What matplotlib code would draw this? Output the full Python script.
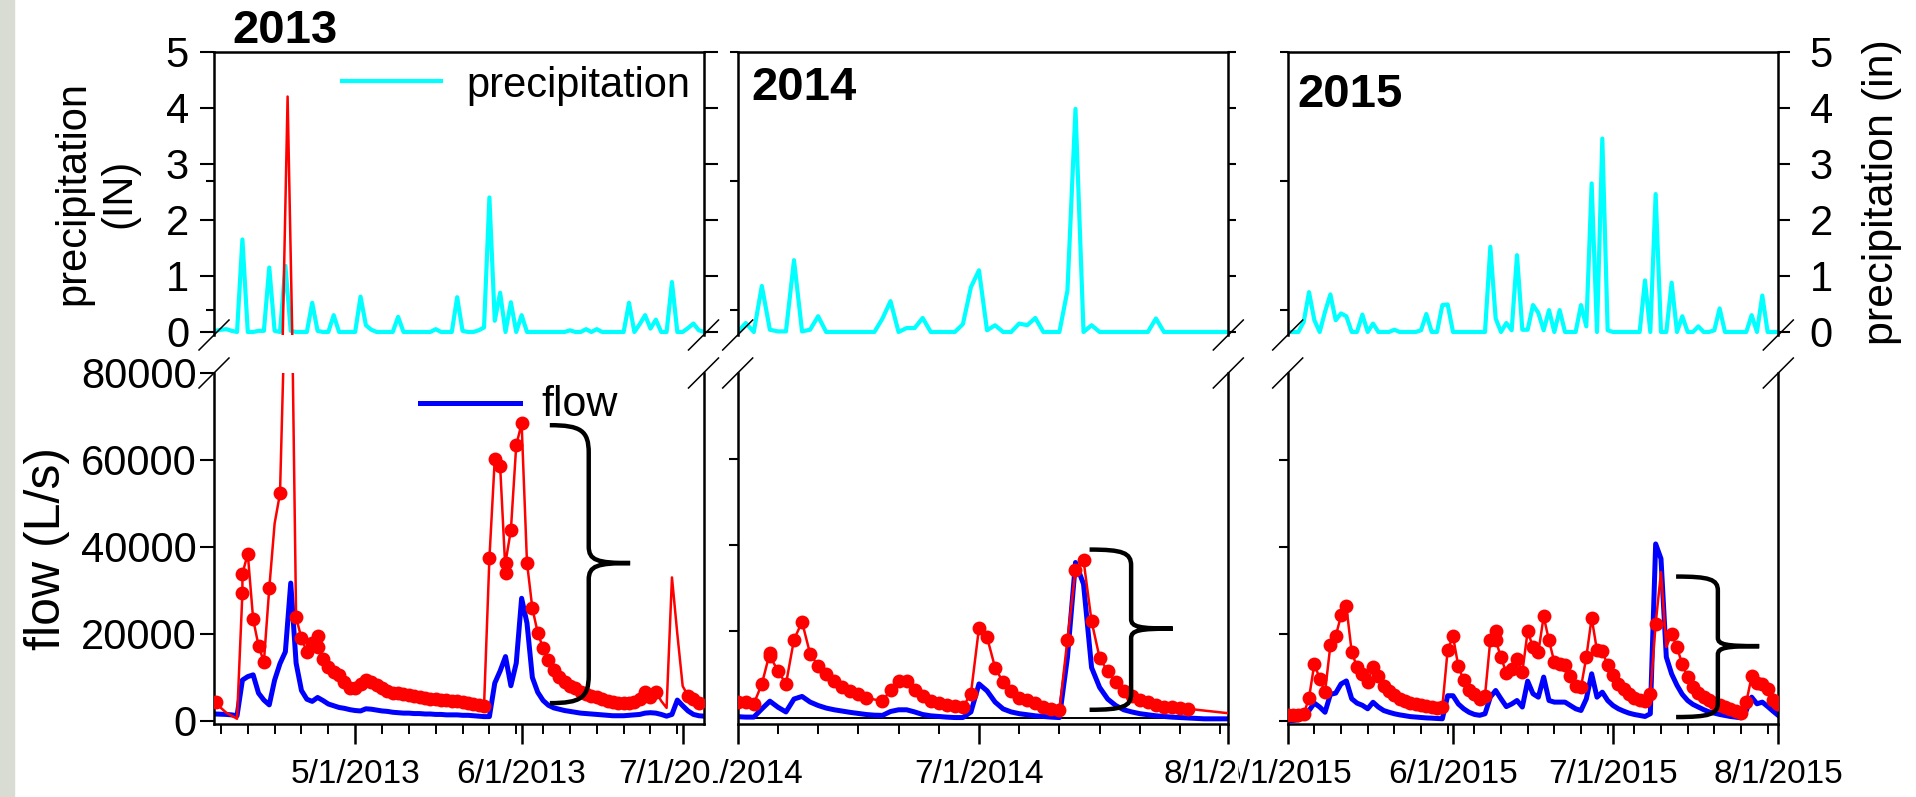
import numpy as np
import pandas as pd
import matplotlib
matplotlib.use("Agg")
import matplotlib.pyplot as plt
import matplotlib.dates as mdates
from matplotlib.path import Path
from matplotlib.patches import PathPatch, Rectangle
from matplotlib.transforms import Bbox, TransformedBbox

plt.rcParams['font.family'] = ['Liberation Sans', 'DejaVu Sans']

# ==============================
# DATA (daily)
# ==============================

START_2013 = "2013-04-04"
FLOW_BLUE_2013 = [1600, 1600, 1550, 1500, 1400, 1200, 9400, 10200, 10600, 6400,
                  4800, 3700, 9400, 13200, 15900, 31700, 13300, 7000, 5000, 4500,
                  5400, 4700, 3900, 3500, 3100, 2900, 2600,
                  2400, 2300, 2800, 2700, 2500, 2300, 2200, 2000, 1900, 1800,
                  1800, 1700, 1700, 1600, 1600, 1500, 1500, 1400, 1400, 1400,
                  1300, 1300, 1200, 1100, 1000, 1000, 8700, 11500, 14800, 8100, 13300,
                  28200, 22500, 10000, 6600, 4700, 3600, 3000, 2700, 2400, 2200,
                  2000, 1800, 1700, 1600, 1500, 1400, 1300, 1200, 1200, 1200,
                  1300, 1400, 1500, 1800, 1900, 1800, 1500, 1100, 1500, 4800,
                  3500, 2300, 1500, 1200, 1100]
FLOW_RED_2013 = [4500, 4300, 3000, 1900, 1200, 500, 29500, 38400, 23400, 17300,
                 13600, 30500, 45400, 52300, 99000, 116000, 23800, 19000, 15900, 17900,
                 19500, 14200, 12500, 11300, 10600, 9000, 7500,
                 7500, 8600, 9400, 8900, 8300, 7600, 6900, 6500, 6400, 6100,
                 5900, 5700, 5500, 5300, 5100, 5000, 4900, 4800, 4700, 4600,
                 4400, 4100, 3800, 3600, 3400, 37400, 60200, 58600, 34100, 43900, 63400,
                 68400, 36400, 25900, 20300, 16700, 14000, 11700, 10000, 9000, 8000,
                 7500, 6700, 6200, 5700, 5400, 5000, 4700, 4400, 4200, 4200,
                 4200, 4400, 5000, 6700, 5500, 6700, 4600, 3000, 33000, 20000,
                 8000, 5800, 5000, 4200, 3800]
RED_SECOND_2013 = {6: 33900, 20: 16900, 55: 36400}
RED_PLAIN_2013 = [2, 3, 4, 5, 12, 14, 15, 84, 85, 86, 87, 88, 92]
PRECIP_2013 = [0.0, 0.02, 0.04, 0.05, 0.02, 0.0, 1.65, 0.0, 0.0, 0.02,
               0.02, 1.15, 0.02, 0.0, 1.18, 0.02, 0.0, 0.0, 0.0, 0.52,
               0.02, 0.0, 0.0, 0.3, 0.0, 0.0, 0.0, 0.0, 0.63, 0.12,
               0.04, 0.0, 0.0, 0.0, 0.0, 0.27, 0.0, 0.0, 0.0, 0.0,
               0.0, 0.0, 0.05, 0.0, 0.0, 0.0, 0.62, 0.02, 0.0, 0.0,
               0.03, 0.08, 2.4, 0.2, 0.7, 0.0, 0.53, 0.0, 0.3, 0.0,
               0.0, 0.0, 0.0, 0.0, 0.0, 0.0, 0.0, 0.03, 0.0, 0.0,
               0.05, 0.0, 0.05, 0.0, 0.0, 0.0, 0.0, 0.0, 0.52, 0.0,
               0.14, 0.3, 0.06, 0.22, 0.0, 0.0, 0.89, 0.0, 0.0, 0.07,
               0.15, 0.03, 0.0]
# red peak of 18 April 2013 continued above the axis break (drawn in inches scale)
RED_ABOVE_DATES_2013 = ["2013-04-17 12:00", "2013-04-18 10:00", "2013-04-19 07:00"]
RED_ABOVE_VALUES_2013 = [-0.1, 4.2, -0.1]

START_2014 = "2014-06-01"
FLOW_BLUE_2014 = [200, 100, 100, 2000, 3800, 2400, 1300, 4300, 4900, 3600,
                  2800, 2200, 1800, 1500, 1200, 950, 700, 550, 500, 1400,
                  1800, 1800, 1300, 700, 400, 250, 100, 0, 0, 1300,
                  7800, 6200, 3600, 2000, 1300, 900, 650, 400, 250, 100,
                  0, 14000, 36000, 31000, 11600, 7000, 4300, 2800, 1800, 1300,
                  900, 650, 400, 250, 100, 0, -100, -200, -300, -300, -300,
                  -300]
FLOW_RED_2014 = [3560, 3560, 3180, 7770, 15060, 10850, 7770, 18120, 22190, 14830,
                 12000, 10080, 8410, 7030, 6270, 5350, 4580, None, 3790, 6400,
                 8410, 8580, 6480, 4890, 3950, 3330, 2950, 2640, 2410, 5580,
                 20800, 18660, 11610, 8160, 6090, 4580, 3960, 3330, 2560, 2030,
                 1650, 18120, 34200, 36510, 22340, 13880, 10700, 8160, 6250, 5080,
                 4120, 3560, 3020, 2560, 2410, 2250, 2030, None, None, None, None,
                 1000]
RED_SECOND_2014 = {4: 14300}
RED_PLAIN_2014 = [61]
PRECIP_2014 = [0.0, 0.16, 0.0, 0.82, 0.04, 0.01, 0.01, 1.28, 0.01, 0.04,
               0.28, 0.0, 0.0, 0.0, 0.0, 0.0, 0.0, 0.0, 0.24, 0.55,
               0.0, 0.07, 0.07, 0.25, 0.0, 0.0, 0.0, 0.0, 0.14, 0.8,
               1.1, 0.03, 0.12, 0.0, 0.0, 0.15, 0.12, 0.25, 0.0, 0.0,
               0.0, 0.74, 3.98, 0.0, 0.12, 0.0, 0.0, 0.0, 0.0, 0.0,
               0.0, 0.0, 0.24, 0.0, 0.0, 0.0, 0.0, 0.0, 0.0, 0.0,
               0.0, 0.0]

START_2015 = "2015-05-01"
FLOW_BLUE_2015 = [100, 100, 250, 900, 2400, 4100, 3200, 2000, 6100, 6400,
                  8500, 9200, 5100, 4100, 3600, 2800, 4300, 3200, 2400, 2000,
                  1650, 1400, 1200, 1000, 900, 800, 700, 650, 570, 500, 5800,
                  5800, 3900, 2800, 2000, 1500, 1300, 1650, 5500, 7000, 5100,
                  3300, 3900, 4700, 3200, 9150, 6250, 5470, 10080, 4710, 4330,
                  4330, 4330, 3560, 2800, 2410, 5080, 10840, 5470, 6620, 4710,
                  3560, 2800, 2260, 1800, 1490, 1260, 1030, 1650, 40700, 37300,
                  14700, 10800, 8200, 6100, 4700, 3800, 3200, 2600, 2100, 1800,
                  1500, 1260, 1030, 880, 720, 2400, 5470, 3940, 4330, 3330, 2260,
                  1260]
FLOW_RED_2015 = [1260, 1260, 1260, 1500, 5330, 13140, 9690, 6620, 17360, 19440,
                 24260, 26330, 15860, 12410, 10730, 8960, 12410, 10270, 7970, 6900,
                 5900, 5130, 4600, 4210, 3830, 3600, 3370, 3220, 3060, 3220, 16370,
                 19440, 12560, 9340, 7160, 6240, 5080, 5850, 18660, 20650, 14670,
                 11000, 12000, 14290, 11230, 20650, 16970, 15820, 24020, 18510, 13520,
                 13140, 12760, 10230, 7930, 7770, 14670, 23710, 16210, 16060, 12760,
                 10460, 8540, 7390, 6090, 5240, 4710, 4480, 6090, 22340, 34210,
                 17000, 20040, 16960, 12990, 10080, 7770, 6390, 5470, 4710, 4100,
                 3560, 3180, 2800, 2260, 1800, 4330, 10230, 8690, 8540, 7390, 4870,
                 3790]
RED_SECOND_2015 = {39: 18510}
RED_PLAIN_2015 = [70, 71]
PRECIP_2015 = [0, 0, 0, 0.18, 0.71, 0.21, 0, 0.36, 0.67, 0.21,
               0.33, 0.28, 0, 0, 0.31, 0, 0.15, 0, 0, 0,
               0.04, 0, 0, 0, 0, 0.03, 0.32, 0, 0, 0.48,
               0.49, 0, 0, 0, 0, 0, 0, 0, 1.52, 0.24,
               0, 0.16, 0.03, 1.37, 0.04, 0.04, 0.48, 0.34, 0.03, 0.39,
               0, 0.39, 0, 0, 0, 0.48, 0.1, 2.65, 0, 3.45,
               0.03, 0, 0, 0, 0, 0, 0, 0.92, 0, 2.46,
               0, 0, 0.88, 0, 0.28, 0, 0, 0.1, 0, 0,
               0.03, 0.42, 0, 0, 0, 0, 0, 0.3, 0, 0.65,
               0, 0, 0]

# braces: left end, spine, tip (dates) and top, middle, bottom (L/s)
BRACE_2013 = ("2013-06-06 06:00", "2013-06-13 12:00", "2013-06-21 05:00", 68000, 36300, 4100)
BRACE_2014 = ("2014-07-14 18:00", "2014-07-19 22:00", "2014-07-25 02:00", 39000, 20650, 1800)
BRACE_2015 = ("2015-07-12 20:00", "2015-07-20 16:00", "2015-07-28 10:00", 33200, 17200, 900)

# ==============================
# LAYOUT (pixels of the 1916 x 797 picture)
# ==============================

W, H = 1916, 797
PRECIP_TOP, PRECIP_BOT = 51.7, 335.0
FLOW_TOP, FLOW_BOT = 373.0, 724.0
TICK_FONT = 30

PANELS = [
    dict(year="2013", start=START_2013, blue=FLOW_BLUE_2013, red=FLOW_RED_2013,
         second=RED_SECOND_2013, plain=RED_PLAIN_2013, rain=PRECIP_2013, brace=BRACE_2013,
         xlim=("2013-04-04 17:00", "2013-07-04 21:00"), x0=214.0, x1=703.5,
         flow_min=-700, clip=(0, 713)),
    dict(year="2014", start=START_2014, blue=FLOW_BLUE_2014, red=FLOW_RED_2014,
         second=RED_SECOND_2014, plain=RED_PLAIN_2014, rain=PRECIP_2014, brace=BRACE_2014,
         xlim=("2014-06-01", "2014-08-01"), x0=737.7, x1=1228.3,
         flow_min=-1500, clip=(713, 1239)),
    dict(year="2015", start=START_2015, blue=FLOW_BLUE_2015, red=FLOW_RED_2015,
         second=RED_SECOND_2015, plain=RED_PLAIN_2015, rain=PRECIP_2015, brace=BRACE_2015,
         xlim=("2015-05-01", "2015-08-01"), x0=1287.7, x1=1778.3,
         flow_min=-700, clip=(1239, W)),
]


def px_box(x0, x1, top, bot):
    return [x0 / W, 1 - bot / H, (x1 - x0) / W, (bot - top) / H]


def day_axis(start, n):
    return pd.Timestamp(start) + pd.to_timedelta(np.arange(n), unit="D")


def red_points(start, vals, second, plain):
    days, ys, marks = [], [], []
    for d, v in enumerate(vals):
        if v is None:
            continue
        readings = [v] + ([second[d]] if d in second else [])
        for r in readings:
            if d not in plain:
                marks.append(len(days))
            days.append(d)
            ys.append(r)
    x = pd.Timestamp(start) + pd.to_timedelta(days, unit="D")
    return x, ys, marks


def draw_brace(ax, spec):
    xl, xs, xt = [mdates.date2num(pd.Timestamp(s)) for s in spec[:3]]
    yt, ym, yb = spec[3:]
    h = yt - yb
    r = 0.10 * h
    verts = [(xl, yt),
             (xl + 0.8 * (xs - xl), yt), (xs, yt - 0.02 * h), (xs, yt - r),
             (xs, ym + 0.6 * r),
             (xs, ym + 0.1 * r), (xs + 0.2 * (xt - xs), ym), (xt, ym),
             (xs + 0.2 * (xt - xs), ym), (xs, ym - 0.1 * r), (xs, ym - 0.6 * r),
             (xs, yb + r),
             (xs, yb + 0.02 * h), (xl + 0.8 * (xs - xl), yb), (xl, yb)]
    C, L = Path.CURVE4, Path.LINETO
    codes = [Path.MOVETO, C, C, C, L, C, C, C, C, C, C, L, C, C, C]
    ax.add_patch(PathPatch(Path(verts, codes), fill=False, color="black",
                           lw=3.2, capstyle="butt", zorder=5))


def add_breaks(axp, axf, width_px):
    s = 15.0
    hp = PRECIP_BOT - PRECIP_TOP
    hf = FLOW_BOT - FLOW_TOP
    for xf in (0.0, 1.0):
        axp.plot([xf - s / width_px, xf + s / width_px], [-s / hp, s / hp],
                 transform=axp.transAxes, color="black", lw=1.1, clip_on=False)
        axf.plot([xf - s / width_px, xf + s / width_px], [1 - s / hf, 1 + s / hf],
                 transform=axf.transAxes, color="black", lw=1.1, clip_on=False)


# ==============================
# PLOTTING
# ==============================

def main():
    fig = plt.figure(figsize=(W / 100, H / 100), dpi=100)
    fig.patches.append(Rectangle((0, 0), 14 / W, 1, transform=fig.transFigure,
                                 color="#d9dcd3", zorder=0))

    for i, p in enumerate(PANELS):
        width_px = p["x1"] - p["x0"]
        axp = fig.add_axes(px_box(p["x0"], p["x1"], PRECIP_TOP, PRECIP_BOT))
        axf = fig.add_axes(px_box(p["x0"], p["x1"], FLOW_TOP, FLOW_BOT))
        xlim = (pd.Timestamp(p["xlim"][0]), pd.Timestamp(p["xlim"][1]))

        # precipitation
        axp.plot(day_axis(p["start"], len(p["rain"])), p["rain"], color="#00ffff", lw=3.0)
        if p["year"] == "2013":
            axp.plot(pd.to_datetime(RED_ABOVE_DATES_2013), RED_ABOVE_VALUES_2013,
                     color="red", lw=1.8)
        axp.set_xlim(*xlim)
        axp.set_ylim(-0.054, 5)

        # flow
        axf.plot(day_axis(p["start"], len(p["blue"])), p["blue"], color="blue", lw=3.6, zorder=2)
        rx, ry, marks = red_points(p["start"], p["red"], p["second"], p["plain"])
        axf.plot(rx, ry, color="red", lw=1.8, marker="o", ms=10, mew=0,
                 markevery=marks, zorder=3)
        if p["year"] == "2014":
            axf.axhline(0, color="black", lw=1.4, zorder=1)
        draw_brace(axf, p["brace"])
        axf.set_xlim(*xlim)
        axf.set_ylim(p["flow_min"], 80000)

        # spines
        for ax in (axp, axf):
            for sp in ax.spines.values():
                sp.set_linewidth(1.8)
        axp.spines["bottom"].set_visible(False)
        axf.spines["top"].set_visible(False)
        add_breaks(axp, axf, width_px)

        # x ticks (dates)
        majors = pd.date_range(xlim[0], xlim[1], freq="MS", normalize=True)
        step = pd.Timedelta(days=5)
        k = int((majors[0] - xlim[0]) / step)
        minors = pd.date_range(majors[0] - k * step, xlim[1], freq="5D")
        axf.set_xticks(majors, labels=[f"{d.month}/{d.day}/{d.year}" for d in majors])
        axf.set_xticks(minors, minor=True)
        axf.tick_params(axis="x", which="major", direction="out", length=14.5,
                        width=1.8, pad=11, labelsize=24)
        axf.tick_params(axis="x", which="minor", direction="out", length=7, width=1.4)
        clip = TransformedBbox(Bbox([[p["clip"][0] / W, 0], [p["clip"][1] / W, 1]]),
                               fig.transFigure)
        for lab in axf.get_xticklabels():
            lab.set_clip_box(clip)
            lab.set_clip_on(True)
        axp.tick_params(axis="x", which="both", bottom=False, top=False, labelbottom=False)

        # precipitation y ticks
        axp.yaxis.remove_overlapping_locs = False
        axp.set_yticks([0, 1, 2, 3, 4, 5])
        axp.set_yticks([0.4, 2.7] + ([5] if i > 0 else []), minor=True)
        axp.tick_params(axis="y", which="minor", direction="out", left=True,
                        right=False, length=6, width=1.5)
        if i == 0:
            axp.tick_params(axis="y", which="major", direction="out", left=True, right=True,
                            labelleft=True, labelright=False, length=10, width=1.5,
                            pad=8, labelsize=TICK_FONT)
        else:
            axp.tick_params(axis="y", which="major", direction="out", left=False, right=True,
                            labelleft=False, labelright=(i == 2), length=6 if i == 1 else 8.5,
                            width=1.5, pad=14, labelsize=TICK_FONT)

        # flow y ticks
        if i == 0:
            axf.set_yticks([0, 20000, 40000, 60000, 80000])
            axf.tick_params(axis="y", direction="out", left=True, right=False,
                            length=10, width=1.5, pad=2.5, labelsize=TICK_FONT)
        else:
            axf.set_yticks([20000, 40000, 60000] if i == 1 else [0, 20000, 40000, 60000])
            axf.tick_params(axis="y", direction="out", left=True, right=False,
                            labelleft=False, length=6.5, width=1.5)

        # year titles
        if i == 0:
            axp.text(0.037, 1.031, p["year"], transform=axp.transAxes, ha="left",
                     va="baseline", fontsize=34, fontweight="bold")
        else:
            axp.text(0.027 if i == 1 else 0.02, 0.83 if i == 1 else 0.806, p["year"],
                     transform=axp.transAxes, ha="left", va="baseline",
                     fontsize=34, fontweight="bold")

        if i == 0:
            axp.text(-0.241, 0.5, "precipitation\n(IN)", transform=axp.transAxes,
                     rotation=90, ha="center", va="center", fontsize=30,
                     multialignment="center")
            axf.text(-0.342, 0.5, "flow (L/s)", transform=axf.transAxes,
                     rotation=90, ha="center", va="center", fontsize=36)
            # legends
            axp.plot([0.261, 0.463], [0.895, 0.895], transform=axp.transAxes,
                     color="#00ffff", lw=3.0)
            axp.text(0.516, 0.841, "precipitation", transform=axp.transAxes,
                     ha="left", va="baseline", fontsize=30)
            axf.plot([0.42, 0.625], [0.915, 0.915], transform=axf.transAxes,
                     color="blue", lw=3.6)
            axf.text(0.669, 0.877, "flow", transform=axf.transAxes,
                     ha="left", va="baseline", fontsize=31)
        if i == 2:
            axp.text(1.212, 0.505, "precipitation (in)", transform=axp.transAxes,
                     rotation=90, ha="center", va="center", fontsize=31)

    fig.savefig("out.png", dpi=100)


if __name__ == "__main__":
    main()
